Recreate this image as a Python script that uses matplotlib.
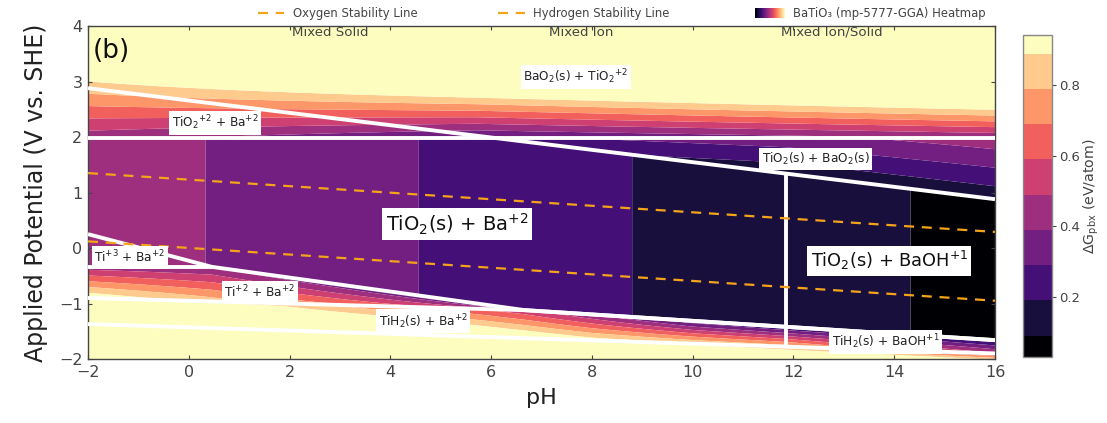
import numpy as np
import matplotlib.pyplot as plt
from matplotlib.lines import Line2D

plt.rcParams['font.family'] = ['DejaVu Sans']
plt.rcParams['mathtext.fontset'] = 'dejavusans'

GREY = '#444444'

# domain boundary lines (pH, V)
e_ph, e_v = [-2, 16], [2.88, 0.88]                      # Ba+2 | BaO2(s)
f_v = 1.98                                               # TiO2(s) | TiO2+2
a_ph, a_v = [-2, 0.46, 6.67, 16], [0.25, -0.34, -1.12, -1.66]
b_ph, b_v = [-2, 0.46], [-0.34, -0.34]
c_ph, c_v = [-2, 6.67, 16], [-0.90, -1.12, -1.66]
d_ph, d_v = [-2, 16], [-1.37, -1.90]
g_ph = 11.85                                             # Ba+2 | BaOH+1

# water stability lines
o2_ph, o2_v = [-2, 16], [1.35, 0.29]
h2_ph, h2_v = [-2, 16], [0.12, -0.95]

# dG_pbx (eV/atom) anchors per domain
up_ph, up_base, up_slope = [-2, 5.7, 16], [0.43, 0.27, 0.40], [0.45, 0.85, 0.96]
bo2_ph, bo2_low, bo2_high = [5.7, 11.85, 16], [0.263, 0.118, 0.12], [0.263, 0.35, 0.45]
tb_ph, tb_val = [-2, 11.85], [0.445, 0.118]
boh_ph, boh_val = [11.85, 16], [0.118, 0.071]
ti3_val = 0.46
ti2_top_ph, ti2_top = [-2, 0.46, 6.67], [0.44, 0.387, 0.24]
ti2_bot_ph, ti2_bot = [-2, 6.67], [0.98, 0.50]
tih2_top_ph, tih2_top = [-2, 1.9, 5.9, 10, 11.85], [0.92, 0.85, 0.58, 0.22, 0.18]
tih2_bot_ph, tih2_bot = [-2, 4, 8, 11.85], [1.3, 1.2, 0.95, 0.85]
tihoh_ph, tihoh_top, tihoh_bot = [11.85, 16], [0.18, 0.15], [0.85, 0.5]
low_ph, low_base, low_slope = [-2, 8, 16], [0.95, 0.9, 0.55], 3.0

levels = [0.029, 0.09, 0.19, 0.29, 0.39, 0.49, 0.59, 0.69, 0.79, 0.89, 0.943]
band_colors = plt.cm.magma(np.linspace(0, 1, 10))

# build the field
P, V = np.meshgrid(np.linspace(-2, 16, 901), np.linspace(-2, 4, 601))
E = np.interp(P, e_ph, e_v)
A = np.interp(P, a_ph, a_v)
C = np.interp(P, c_ph, c_v)
D = np.interp(P, d_ph, d_v)
ti2_top_v = np.where(P < 0.46, -0.34, A)


def frac(num, den):
    return np.clip(num / np.maximum(den, 1e-3), 0, 1)


z_up = np.interp(P, up_ph, up_base) + np.interp(P, up_ph, up_slope) * (V - f_v)
lo, hi = np.interp(P, bo2_ph, bo2_low), np.interp(P, bo2_ph, bo2_high)
z_bo2 = lo + frac(V - E, f_v - E) * (hi - lo)
z_tb = np.interp(P, tb_ph, tb_val)
z_boh = np.interp(P, boh_ph, boh_val)
z_ti3 = np.full_like(P, ti3_val)
t2, b2 = np.interp(P, ti2_top_ph, ti2_top), np.interp(P, ti2_bot_ph, ti2_bot)
z_ti2 = t2 + frac(ti2_top_v - V, ti2_top_v - C) * (b2 - t2)
t3, b3 = np.interp(P, tih2_top_ph, tih2_top), np.interp(P, tih2_bot_ph, tih2_bot)
z_tih2 = t3 + frac(C - V, C - D) * (b3 - t3)
t4, b4 = np.interp(P, tihoh_ph, tihoh_top), np.interp(P, tihoh_ph, tihoh_bot)
z_tihoh = t4 + frac(C - V, C - D) * (b4 - t4)
z_low = np.interp(P, low_ph, low_base) + low_slope * (D - V)

conds = [V >= f_v,
         V >= E,
         (V >= A) & (P < g_ph),
         V >= A,
         (P < 0.46) & (V >= -0.34),
         (V >= C) & (P < 6.67),
         (V >= D) & (P < g_ph),
         V >= D]
vals = [z_up, z_bo2, z_tb, z_boh, z_ti3, z_ti2, z_tih2, z_tihoh]
Z = np.select(conds, vals, default=z_low)
Z = np.clip(Z, 0.03, 0.94)

fig = plt.figure(figsize=(11.07, 4.23), dpi=100)
ax = fig.add_axes([0.0795, 0.1513, 0.8193, 0.7872])
cax = fig.add_axes([0.9241, 0.156, 0.0262, 0.7612])

cs = ax.contourf(P, V, Z, levels=levels, colors=band_colors, antialiased=True)

# boundaries
wl = dict(color='white', lw=2.8, solid_capstyle='butt', zorder=3)
ax.plot(e_ph, e_v, **wl)
ax.plot([-2, 16], [f_v, f_v], **wl)
ax.plot(a_ph, a_v, **wl)
ax.plot(b_ph, b_v, **wl)
ax.plot(c_ph, c_v, **wl)
ax.plot(d_ph, d_v, **wl)
ax.plot([g_ph, g_ph], [np.interp(g_ph, e_ph, e_v), np.interp(g_ph, d_ph, d_v)], **wl)

# water lines
dash = dict(color='#f5a31a', lw=1.6, ls=(0, (4.5, 3.5)), zorder=4)
ax.plot(o2_ph, o2_v, **dash)
ax.plot(h2_ph, h2_v, **dash)

# domain labels
box = dict(facecolor='white', edgecolor='none', pad=2.0)
small = [
    (7.68, 3.08, r'BaO$_2$(s) + TiO$_2$$^{+2}$'),
    (0.52, 2.25, r'TiO$_2$$^{+2}$ + Ba$^{+2}$'),
    (12.44, 1.60, r'TiO$_2$(s) + BaO$_2$(s)'),
    (-1.17, -0.17, r'Ti$^{+3}$ + Ba$^{+2}$'),
    (1.41, -0.79, r'Ti$^{+2}$ + Ba$^{+2}$'),
    (4.65, -1.32, r'TiH$_2$(s) + Ba$^{+2}$'),
    (13.83, -1.69, r'TiH$_2$(s) + BaOH$^{+1}$'),
]
for x, y, s in small:
    ax.text(x, y, s, fontsize=8.7, color='#222222', ha='center', va='center',
            bbox=box, zorder=6)
ax.text(5.32, 0.43, r'TiO$_2$(s) + Ba$^{+2}$', fontsize=14, color='#111111',
        ha='center', va='center', zorder=6,
        bbox=dict(facecolor='white', edgecolor='none', pad=2.5))
ax.text(13.9, -0.23, r'TiO$_2$(s) + BaOH$^{+1}$', fontsize=12.8, color='#111111',
        ha='center', va='center', zorder=6,
        bbox=dict(facecolor='white', edgecolor='none', pad=2.5))

ax.text(-1.9, 3.55, '(b)', fontsize=19, color='#111111', va='center', zorder=6)
for x, s in [(2.8, 'Mixed Solid'), (7.78, 'Mixed Ion'), (12.76, 'Mixed Ion/Solid')]:
    ax.text(x, 3.89, s, fontsize=9.6, color=GREY, ha='center', va='center', zorder=6)

ax.set_xlim(-2, 16)
ax.set_ylim(-2, 4)
ax.set_xticks(np.arange(-2, 17, 2))
ax.set_yticks(np.arange(-2, 5, 1))
ax.set_xticklabels([str(t).replace('-', '\u2212') for t in range(-2, 17, 2)])
ax.set_yticklabels([str(t).replace('-', '\u2212') for t in range(-2, 5, 1)])
ax.tick_params(direction='in', length=3, width=0.8, colors=GREY, labelsize=11.5,
               top=True, right=True, pad=4)
for sp in ax.spines.values():
    sp.set_color(GREY)
    sp.set_linewidth(1.0)
ax.set_xlabel('pH', fontsize=16, color='#222222', labelpad=6)
ax.set_ylabel('Applied Potential (V vs. SHE)', fontsize=17, color='#222222', labelpad=8)

# colorbar
cb = fig.colorbar(cs, cax=cax, ticks=[0.2, 0.4, 0.6, 0.8], spacing='proportional')
cb.outline.set_edgecolor('#888888')
cb.outline.set_linewidth(1.0)
cax.tick_params(direction='out', length=3, colors=GREY, labelsize=9.5, pad=2)
cb.set_label(r'$\Delta$G$_{\mathrm{pbx}}$ (eV/atom)', fontsize=10.2, color=GREY, labelpad=1)

# legend row above the plot
ly = 0.969
fig.add_artist(Line2D([0.233, 0.257], [ly, ly], color='#f5a31a', lw=1.6,
                      ls=(0, (4.5, 3.5)), transform=fig.transFigure))
fig.text(0.2647, ly, 'Oxygen Stability Line', fontsize=8.4, color=GREY, va='center')
fig.add_artist(Line2D([0.450, 0.474], [ly, ly], color='#f5a31a', lw=1.6,
                      ls=(0, (4.5, 3.5)), transform=fig.transFigure))
fig.text(0.4815, ly, 'Hydrogen Stability Line', fontsize=8.4, color=GREY, va='center')
gax = fig.add_axes([0.682, 0.958, 0.0271, 0.022])
gax.imshow(np.linspace(0, 1, 64)[None, :], cmap='magma', aspect='auto')
gax.axis('off')
fig.text(0.7163, ly, 'BaTiO\u2083 (mp-5777-GGA) Heatmap', fontsize=8.4, color=GREY, va='center')

fig.savefig('out.png', dpi=100)
